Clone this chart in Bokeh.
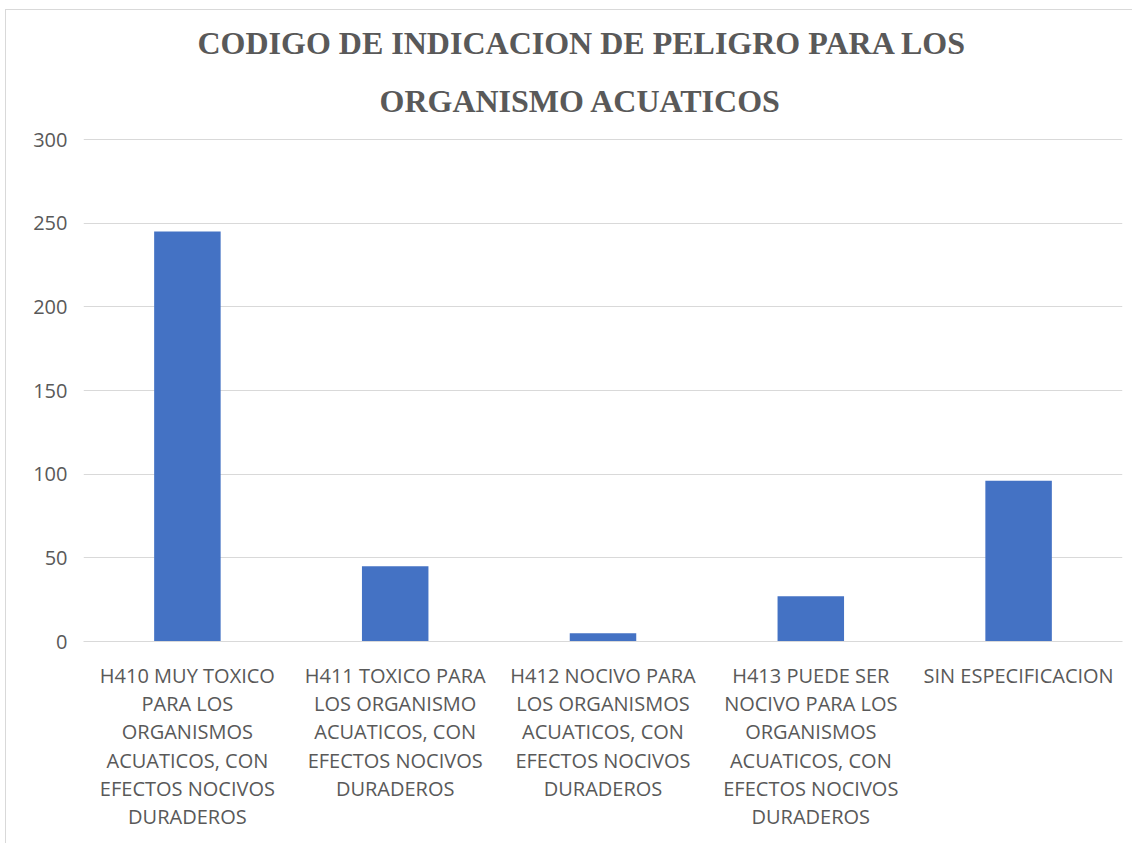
from bokeh.plotting import figure
from bokeh.models import Title, FixedTicker, Range1d, FactorRange
from bokeh.embed import file_html
from bokeh.resources import INLINE

categories = [
    "H410 MUY TOXICO\nPARA LOS\nORGANISMOS\nACUATICOS, CON\nEFECTOS NOCIVOS\nDURADEROS",
    "H411 TOXICO PARA\nLOS ORGANISMO\nACUATICOS, CON\nEFECTOS NOCIVOS\nDURADEROS",
    "H412 NOCIVO PARA\nLOS ORGANISMOS\nACUATICOS, CON\nEFECTOS NOCIVOS\nDURADEROS",
    "H413 PUEDE SER\nNOCIVO PARA LOS\nORGANISMOS\nACUATICOS, CON\nEFECTOS NOCIVOS\nDURADEROS",
    "SIN ESPECIFICACION",
]
values = [245, 45, 5, 27, 96]
y_ticks = [0, 50, 100, 150, 200, 250, 300]
title_lines = ["CODIGO DE INDICACION DE PELIGRO PARA LOS", "ORGANISMO ACUATICOS"]

p = figure(
    width=1127, height=834,
    x_range=FactorRange(*categories, range_padding=0),
    y_range=Range1d(0, 300.6),
    output_backend="svg", toolbar_location=None,
    min_border_left=77, min_border_right=11, min_border_bottom=203, min_border_top=128,
)
p.styles = {"border-top": "1px solid #d9d9d9", "border-left": "1px solid #d9d9d9",
            "margin-left": "5px", "margin-top": "9px"}

# inner line first (closest to frame), then the outer line
p.add_layout(Title(text=title_lines[1], align="left", offset=296, text_font="Liberation Serif",
                   text_font_size="32px", text_font_style="bold",
                   text_color="#595959", standoff=40), "above")
p.add_layout(Title(text=title_lines[0], align="left", offset=114, text_font="Liberation Serif",
                   text_font_size="32px", text_font_style="bold", text_line_height=0.75,
                   text_color="#595959", standoff=0), "above")

p.vbar(x=categories, top=values, width=0.32, color="#4472C4", line_color=None)

p.outline_line_color = None
p.xgrid.grid_line_color = None
p.ygrid.grid_line_color = "#d9d9d9"
p.ygrid.grid_line_width = 1
p.yaxis.ticker = FixedTicker(ticks=y_ticks)
p.yaxis.axis_line_color = None
p.yaxis.major_tick_line_color = None
p.yaxis.major_tick_out = 0
p.yaxis.major_tick_in = 0
p.yaxis.minor_tick_line_color = None
p.yaxis.major_label_text_font = "Open Sans"
p.yaxis.major_label_text_font_size = "20px"
p.yaxis.major_label_text_color = "#595959"
p.yaxis.major_label_standoff = 16

p.xaxis.axis_line_color = "#d9d9d9"
p.xaxis.major_tick_line_color = None
p.xaxis.major_tick_out = 0
p.xaxis.major_tick_in = 0
p.xaxis.minor_tick_line_color = None
p.xaxis.major_label_text_font = "Open Sans"
p.xaxis.major_label_text_font_size = "20px"
p.xaxis.major_label_text_color = "#595959"
p.xaxis.major_label_text_line_height = 1.05
p.xaxis.major_label_standoff = 20

open("out.html", "w").write(file_html(p, INLINE))
